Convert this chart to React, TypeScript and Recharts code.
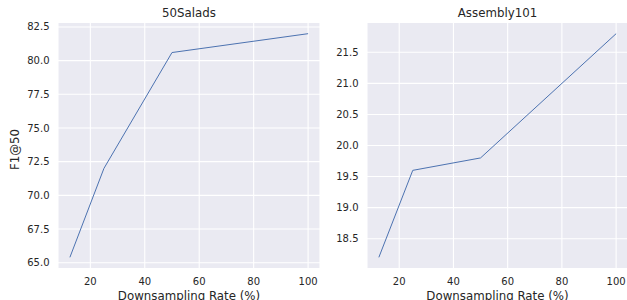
import React from 'react';
import { LineChart, Line, XAxis, YAxis, CartesianGrid, Label } from 'recharts';

const RATES = [12.5, 25, 50, 100];
const SALADS_F1 = [65.4, 72.0, 80.6, 82.0];
const ASSEMBLY_F1 = [18.2, 19.6, 19.8, 21.8];
const X_TICKS = [20, 40, 60, 80, 100];
const SALADS_TICKS = [65, 67.5, 70, 72.5, 75, 77.5, 80, 82.5];
const ASSEMBLY_TICKS = [18.5, 19, 19.5, 20, 20.5, 21, 21.5];

const FONT = '"DejaVu Sans", sans-serif';
const TEXT = '#262626';
const tickStyle = { fontSize: 10, fill: TEXT, fontFamily: FONT };

const saladsData = RATES.map((r, i) => ({ rate: r, f1: SALADS_F1[i] }));
const assemblyData = RATES.map((r, i) => ({ rate: r, f1: ASSEMBLY_F1[i] }));

const YLabel = (props: any) => {
  const { viewBox } = props;
  const x = 15;
  const y = viewBox.y + viewBox.height / 2 + 4;
  return (
    <text
      x={x}
      y={y}
      transform={`rotate(-90 ${x} ${y})`}
      textAnchor="middle"
      dominantBaseline="central"
      fontSize={11.8}
      fill={TEXT}
      fontFamily={FONT}
    >
      F1@50
    </text>
  );
};

const Panel = ({ data, ticks, domain, yWidth, width, withYLabel }: any) => (
  <LineChart width={width} height={300} data={data} margin={{ top: 22.5, right: 0, bottom: 0, left: 0 }}>
    <CartesianGrid fill="#EAEAF2" stroke="#ffffff" strokeWidth={1.1} />
    <XAxis
      dataKey="rate"
      type="number"
      domain={[8.125, 104.375]}
      ticks={X_TICKS}
      height={31.5}
      axisLine={false}
      tickLine={false}
      tickSize={0}
      tickMargin={9}
      tick={tickStyle}
      allowDataOverflow
    >
      <Label
        value="Downsampling Rate (%)"
        position="insideBottom"
        offset={0.5}
        style={{ fontSize: 11.8, fill: TEXT, fontFamily: FONT }}
      />
    </XAxis>
    <YAxis
      type="number"
      domain={domain}
      ticks={ticks}
      width={yWidth}
      axisLine={false}
      tickLine={false}
      tickSize={0}
      tickMargin={8.5}
      tick={tickStyle}
      tickFormatter={(v: number) => v.toFixed(1)}
      allowDataOverflow
    >
      {withYLabel && <Label content={YLabel} />}
    </YAxis>
    <Line
      type="linear"
      dataKey="f1"
      stroke="#4C72B0"
      strokeWidth={1}
      dot={false}
      activeDot={false}
      isAnimationActive={false}
    />
  </LineChart>
);

const titleStyle = (left: number, width: number): React.CSSProperties => ({
  position: 'absolute',
  left,
  width,
  top: 7.3,
  textAlign: 'center',
  fontFamily: FONT,
  fontSize: 11.8,
  lineHeight: '12px',
  color: TEXT,
});

export default function App() {
  return (
    <div style={{ position: 'absolute', left: 0, top: 0, width: 627, height: 300, overflow: 'hidden', background: '#fff' }}>
      <div style={{ position: 'absolute', left: 0, top: 0 }}>
        <Panel data={saladsData} ticks={SALADS_TICKS} domain={[64.57, 82.83]} yWidth={58} width={320} withYLabel />
      </div>
      <div style={{ position: 'absolute', left: 320, top: 0 }}>
        <Panel data={assemblyData} ticks={ASSEMBLY_TICKS} domain={[18.02, 21.98]} yWidth={47} width={308} />
      </div>
      <div style={titleStyle(58, 262)}>50Salads</div>
      <div style={titleStyle(367, 261)}>Assembly101</div>
    </div>
  );
}
